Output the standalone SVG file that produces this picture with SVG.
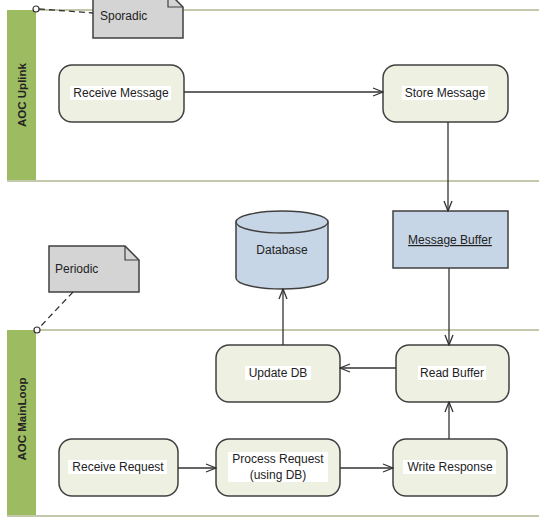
<svg xmlns="http://www.w3.org/2000/svg" width="539" height="518" viewBox="0 0 539 518">
<defs>
<marker id="arr" markerWidth="12" markerHeight="10" refX="11" refY="5" orient="auto" markerUnits="userSpaceOnUse">
<path d="M1,1 L11,5 L1,9" fill="none" stroke="#333" stroke-width="1.3"/>
</marker>
</defs>
<style>
text{font-family:"Liberation Sans",Arial,sans-serif;font-size:12px;fill:#222}
.lane{stroke:#c5c9ab;stroke-width:2;fill:none}
.bar{fill:#9dbb61}
.title{font-weight:bold;font-size:11.5px;text-anchor:middle}
.node{fill:#eef0e2;stroke:#404040;stroke-width:1.5}
.blue{fill:#c7d6e6;stroke:#404040;stroke-width:1.5}
.note{fill:#d4d4d4;stroke:#404040;stroke-width:1.5}
.fold{fill:none;stroke:#404040;stroke-width:1.2}
.lbl{text-anchor:middle}
.hl{fill:#fff}
.edge{stroke:#333;stroke-width:1.3;fill:none;marker-end:url(#arr)}
.dash{stroke:#333;stroke-width:1.3;fill:none;stroke-dasharray:6 4}
</style>
<rect width="539" height="518" fill="#fff"/>
<g id="lane-uplink">
<rect class="bar" x="7" y="10" width="29" height="171"/>
<path class="lane" d="M36,10 H539 M7,181 H539"/>
<text class="title" transform="translate(26,95) rotate(-90)">AOC Uplink</text>
</g>
<g id="lane-mainloop">
<rect class="bar" x="7" y="330" width="29" height="187"/>
<path class="lane" d="M36,330 H539 M7,516 H539"/>
<text class="title" transform="translate(26,419) rotate(-90)">AOC MainLoop</text>
</g>
<g id="note-sporadic">
<path class="note" d="M93,-8 H168 L183,7 V38 H93 Z"/>
<path class="fold" d="M168,-8 V7 H183"/>
<text x="100" y="20">Sporadic</text>
</g>
<g id="note-periodic">
<path class="note" d="M49,246 H125 L139,260 V292 H49 Z"/>
<path class="fold" d="M125,246 V260 H139"/>
<text x="55" y="273">Periodic</text>
</g>
<g id="receive-message">
<rect class="node" x="59" y="65" width="125" height="57" rx="13"/>
<rect class="hl" x="70" y="86" width="101" height="14"/>
<text class="lbl" x="121" y="97">Receive Message</text>
</g>
<g id="store-message">
<rect class="node" x="383" y="65" width="125" height="57" rx="13"/>
<rect class="hl" x="402" y="86" width="86" height="14"/>
<text class="lbl" x="445" y="97">Store Message</text>
</g>
<g id="message-buffer">
<rect class="blue" x="393" y="211" width="115" height="57"/>
<text class="lbl" x="450" y="244" text-decoration="underline">Message Buffer</text>
</g>
<g id="database">
<path class="blue" d="M236,222 V278 A46,11 0 0 0 328,278 V222"/>
<ellipse class="blue" cx="282" cy="222" rx="46" ry="11"/>
<text class="lbl" x="282" y="254">Database</text>
</g>
<g id="update-db">
<rect class="node" x="216" y="345" width="124" height="57" rx="13"/>
<rect class="hl" x="245" y="366" width="66" height="14"/>
<text class="lbl" x="278" y="377">Update DB</text>
</g>
<g id="read-buffer">
<rect class="node" x="396" y="345" width="113" height="57" rx="13"/>
<rect class="hl" x="418" y="366" width="68" height="14"/>
<text class="lbl" x="452" y="377">Read Buffer</text>
</g>
<g id="receive-request">
<rect class="node" x="59" y="439" width="119" height="57" rx="13"/>
<rect class="hl" x="68" y="460" width="99" height="14"/>
<text class="lbl" x="118" y="471">Receive Request</text>
</g>
<g id="process-request">
<rect class="node" x="216" y="439" width="124" height="57" rx="13"/>
<rect class="hl" x="228" y="452" width="100" height="30"/>
<text class="lbl" x="278" y="463">Process Request</text>
<text class="lbl" x="278" y="479">(using DB)</text>
</g>
<g id="write-response">
<rect class="node" x="393" y="439" width="114" height="57" rx="13"/>
<rect class="hl" x="403" y="460" width="93" height="14"/>
<text class="lbl" x="450" y="471">Write Response</text>
</g>
<g id="connectors">
<path class="dash" d="M39,9 L93,13"/>
<circle cx="36" cy="9" r="3" fill="#fff" stroke="#333" stroke-width="1.2"/>
<path class="dash" d="M73,292 L39,328"/>
<circle cx="37" cy="330" r="3" fill="#fff" stroke="#333" stroke-width="1.2"/>
<path class="edge" d="M184,92 H383"/>
<path class="edge" d="M448,122 V211"/>
<path class="edge" d="M449,268 V345"/>
<path class="edge" d="M396,368 H340"/>
<path class="edge" d="M283,345 V289"/>
<path class="edge" d="M449,439 V402"/>
<path class="edge" d="M178,468 H216"/>
<path class="edge" d="M340,468 H393"/>
</g>
</svg>
